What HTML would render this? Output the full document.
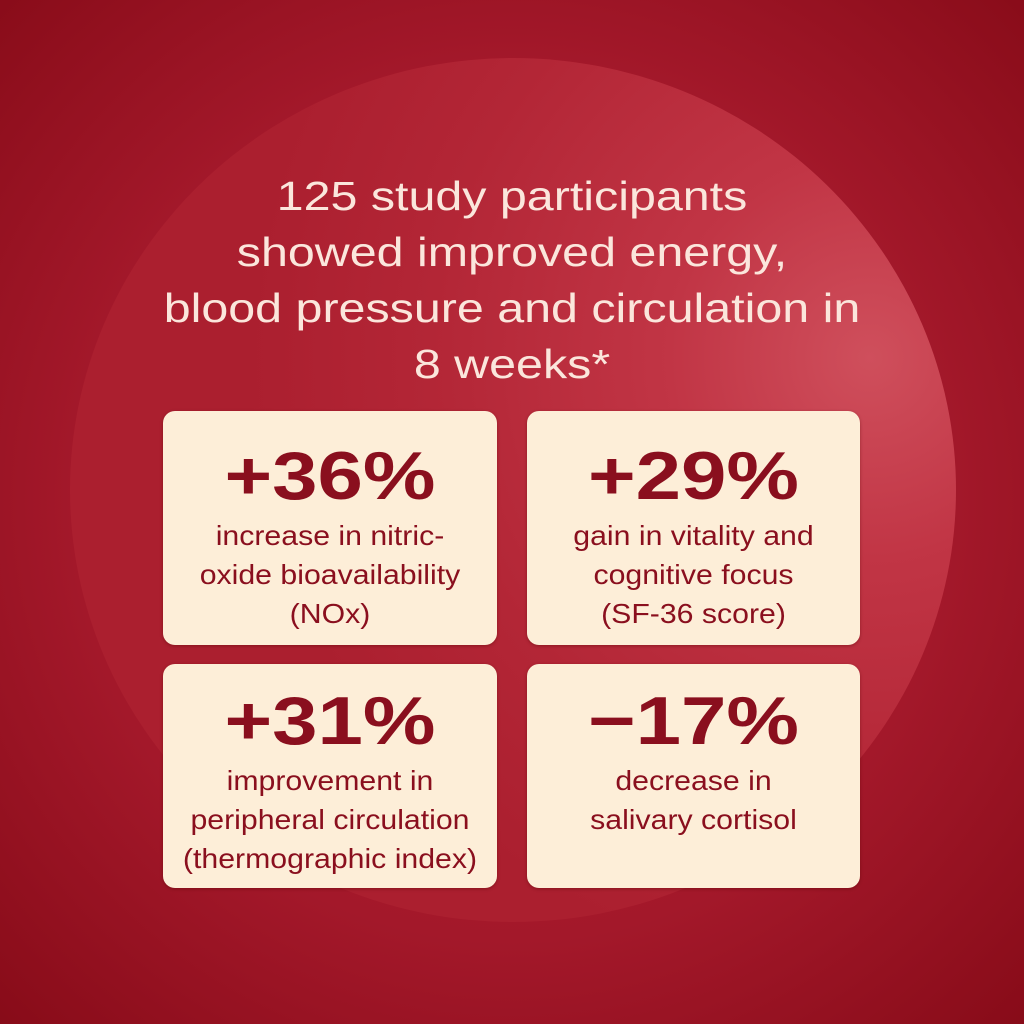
<!DOCTYPE html>
<html><head><style>
body{margin:0;width:1024px;height:1024px;overflow:hidden;font-family:"Liberation Sans",sans-serif;
background:radial-gradient(circle at 512px 500px,#b01c2d 0,#a3182a 440px,#870b18 740px);position:relative}
.circ{position:absolute;left:70px;top:58px;width:886px;height:864px;border-radius:50%;
background:radial-gradient(circle at 800px 300px,#cf4f5c 0,#c13545 200px,#b32636 440px,#ab1f2f 620px)}
.title{position:absolute;top:168px;left:0;width:1024px;text-align:center;color:#fbe6dc;font-size:41px;line-height:56px;transform:scaleX(1.18);}
.card{position:absolute;background:#fdeed8;border-radius:12px;color:#8a0f1e;text-align:center;box-shadow:0 1px 3px rgba(80,0,0,.4)}
.big{font-weight:bold;font-size:68px;line-height:70px;margin-top:30px;transform:scaleX(1.2)}
.sub{font-size:28px;line-height:39px;margin-top:5px;transform:scaleX(1.08)}
</style></head><body>
<div class="circ"></div>
<div class="title">125 study participants<br>showed improved energy,<br>blood pressure and circulation in<br>8 weeks*</div>
<div class="card" style="left:163px;top:411px;width:334px;height:234px"><div class="big">+36%</div><div class="sub">increase in nitric-<br>oxide bioavailability<br>(NOx)</div></div>
<div class="card" style="left:527px;top:411px;width:333px;height:234px"><div class="big">+29%</div><div class="sub">gain in vitality and<br>cognitive focus<br>(SF-36 score)</div></div>
<div class="card" style="left:163px;top:664px;width:334px;height:224px"><div class="big" style="margin-top:22px">+31%</div><div class="sub">improvement in<br>peripheral circulation<br>(thermographic index)</div></div>
<div class="card" style="left:527px;top:664px;width:333px;height:224px"><div class="big" style="margin-top:22px">−17%</div><div class="sub">decrease in<br>salivary cortisol</div></div>
</body></html>
